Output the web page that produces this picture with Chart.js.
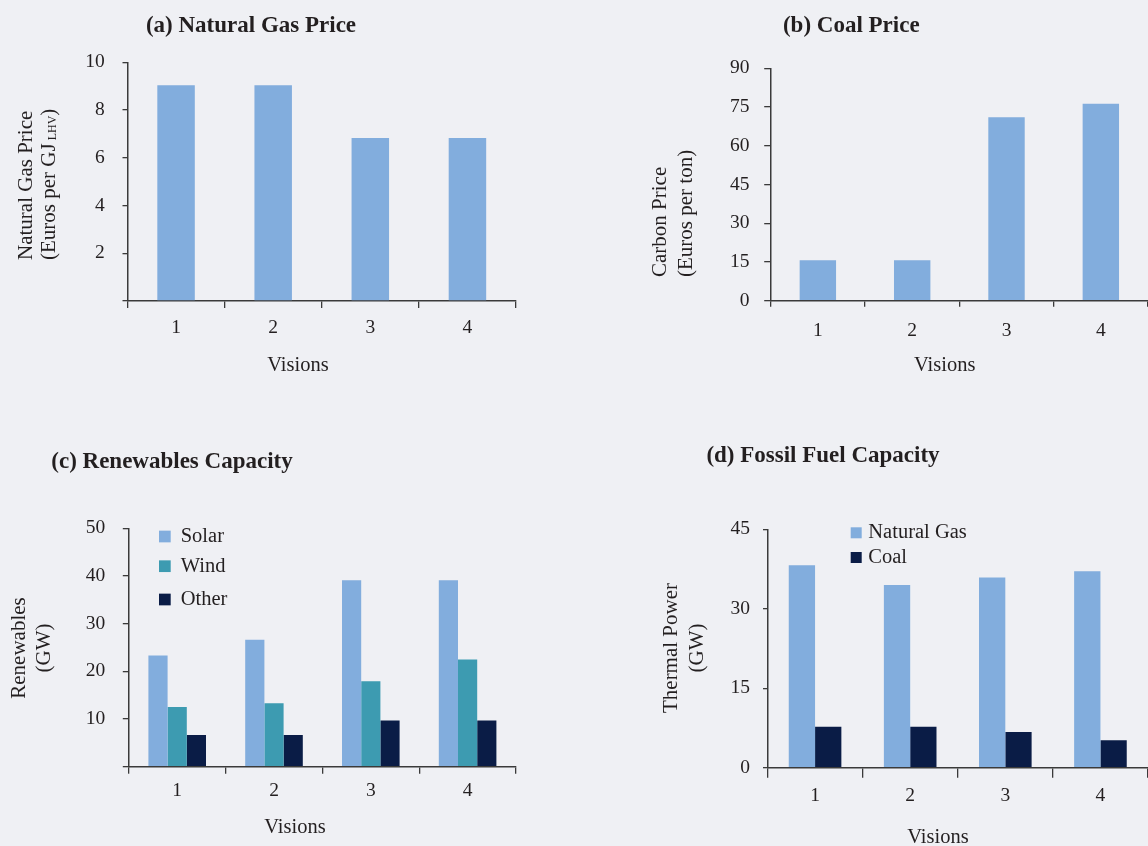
<!DOCTYPE html>
<html>
<head>
<meta charset="utf-8">
<script src="https://cdn.jsdelivr.net/npm/chart.js@4.4.1/dist/chart.umd.min.js"></script>
<style>
html,body{margin:0;padding:0;background:#eff0f4;overflow:hidden;width:1148px;height:846px;}
canvas{position:absolute;left:0;top:0;}
</style>
</head>
<body>
<canvas id="ca" width="1148" height="846"></canvas>
<canvas id="cb" width="1148" height="846"></canvas>
<canvas id="cc" width="1148" height="846"></canvas>
<canvas id="cd" width="1148" height="846"></canvas>
<script>
// ---- data ----
const visions = ['1', '2', '3', '4'];
const gasPrice = [9.04, 9.04, 6.83, 6.83];          // Euros per GJ LHV
const carbonPrice = [15.7, 15.7, 71.0, 76.3];       // Euros per ton
const solar = [23.3, 26.6, 39.1, 39.1];             // GW
const wind = [12.5, 13.3, 17.9, 22.5];              // GW
const otherRen = [6.65, 6.65, 9.7, 9.7];            // GW
const gasCapacity = [38.2, 34.5, 35.9, 37.1];       // GW
const coalCapacity = [7.74, 7.74, 6.74, 5.17];      // GW
const gasPriceTicks = [0, 2, 4, 6, 8, 10];
const carbonPriceTicks = [0, 15, 30, 45, 60, 75, 90];
const renewTicks = [0, 10, 20, 30, 40, 50];
const thermalTicks = [0, 15, 30, 45];

// ---- style ----
const TEXT = '#231f20', AXIS = '#3a3a3a';
const LIGHT = '#82addd', TEAL = '#3d9bb1', NAVY = '#0a1c46';
const SERIF = "'Liberation Serif', 'Times New Roman', serif";
const XH = 45;

const textPlugin = {
  id: 'pageText',
  afterDraw(chart, args, opts) {
    const ctx = chart.ctx;
    for (const it of (opts.items || [])) {
      ctx.save();
      ctx.translate(it.x, it.y);
      if (it.rotate) ctx.rotate(-Math.PI / 2);
      ctx.fillStyle = TEXT;
      ctx.textBaseline = 'middle';
      ctx.textAlign = 'left';
      const base = it.size || 20.5;
      const runs = it.runs || [{ text: it.text }];
      let total = 0;
      runs.forEach(r => { ctx.font = `${r.size || base}px ${SERIF}`; r._w = ctx.measureText(r.text).width; total += r._w; });
      let x = it.align === 'left' ? 0 : -total / 2;
      runs.forEach(r => { ctx.font = `${r.size || base}px ${SERIF}`; ctx.fillText(r.text, x, r.dy || 0); x += r._w; });
      ctx.restore();
    }
  }
};

const boxLegend = {
  id: 'boxLegend',
  afterDraw(chart, args, opts) {
    if (!opts || !opts.ys) return;
    const ctx = chart.ctx;
    ctx.save();
    chart.data.datasets.forEach((ds, i) => {
      const y = opts.ys[i];
      ctx.fillStyle = ds.backgroundColor;
      ctx.fillRect(opts.x, y - opts.size / 2, opts.size, opts.size);
      ctx.fillStyle = TEXT;
      ctx.font = `20.5px ${SERIF}`;
      ctx.textAlign = 'left';
      ctx.textBaseline = 'middle';
      ctx.fillText(ds.label, opts.textX, y);
    });
    ctx.restore();
  }
};

function makeBar(id, c) {
  const tickFont = { family: SERIF, size: 19.5 };
  return new Chart(document.getElementById(id), {
    type: 'bar',
    data: { labels: visions, datasets: c.datasets },
    options: {
      responsive: false,
      animation: false,
      events: [],
      layout: { padding: c.pad },
      plugins: {
        legend: { display: false },
        tooltip: { enabled: false },
        title: {
          display: true, text: c.title, color: TEXT,
          font: { family: SERIF, size: 23, weight: 'bold', lineHeight: 1.2 },
          padding: { top: c.titleTop, bottom: c.titleBottom }
        },
        pageText: { items: c.texts },
        boxLegend: c.legend || {}
      },
      scales: {
        x: {
          type: 'category', offset: true,
          grid: { offset: true, drawOnChartArea: false, drawTicks: true, tickLength: c.xTickLen, color: AXIS, lineWidth: 1.3 },
          border: { display: true, color: AXIS, width: 1.5 },
          ticks: { color: TEXT, font: tickFont, padding: c.xTickPad, maxRotation: 0, autoSkip: false },
          afterFit: s => { s.height = XH; }
        },
        y: {
          min: c.yTicks[0], max: c.yTicks[c.yTicks.length - 1],
          afterBuildTicks: s => { s.ticks = c.yTicks.map(v => ({ value: v })); },
          grid: { drawOnChartArea: false, drawTicks: true, tickLength: c.yTickLen, color: AXIS, lineWidth: 1.3 },
          border: { display: true, color: AXIS, width: 1.5 },
          ticks: { color: TEXT, font: tickFont, padding: c.yTickPad, callback: v => (v === 0 && c.hideZero) ? '' : String(v) },
          afterFit: s => { s.width = c.yw; }
        }
      }
    },
    plugins: [textPlugin, boxLegend]
  });
}

// title line height at 23px * 1.2 = 27.6
// (a) Natural Gas Price
makeBar('ca', {
  datasets: [{ label: 'Natural Gas Price', data: gasPrice, backgroundColor: LIGHT, barPercentage: 0.386, categoryPercentage: 1 }],
  pad: { left: -14, right: 632, top: 0, bottom: 846 - 301 - XH },
  title: '(a) Natural Gas Price', titleTop: 12.7, titleBottom: 22.0,
  yw: 141.5, yTicks: gasPriceTicks, hideZero: true, yTickLen: 5, yTickPad: 17.8,
  xTickLen: 7, xTickPad: 8,
  texts: [
    { x: 298, y: 366, text: 'Visions' },
    { x: 26, y: 260, rotate: true, align: 'left', size: 21, text: 'Natural Gas Price' },
    { x: 49, y: 260, rotate: true, align: 'left', size: 21, runs: [{ text: '(Euros per GJ' }, { text: ' LHV', size: 12, dy: 4 }, { text: ')' }] }
  ]
});

// (b) Coal Price
makeBar('cb', {
  datasets: [{ label: 'Carbon Price', data: carbonPrice, backgroundColor: LIGHT, barPercentage: 0.386, categoryPercentage: 1 }],
  pad: { left: 544.9, right: -9.7, top: 0, bottom: 846 - 300.7 - XH },
  title: '(b) Coal Price', titleTop: 12.7, titleBottom: 28.0,
  yw: 225.8, yTicks: carbonPriceTicks, hideZero: false, yTickLen: 6.5, yTickPad: 14.8,
  xTickLen: 6, xTickPad: 12.5,
  texts: [
    { x: 944.7, y: 365.5, text: 'Visions' },
    { x: 660, y: 277, rotate: true, align: 'left', size: 21, text: 'Carbon Price' },
    { x: 686, y: 277, rotate: true, align: 'left', size: 21, text: '(Euros per ton)' }
  ]
});

// (c) Renewables Capacity
makeBar('cc', {
  datasets: [
    { label: 'Solar', data: solar, backgroundColor: LIGHT, barPercentage: 1, categoryPercentage: 0.595 },
    { label: 'Wind', data: wind, backgroundColor: TEAL, barPercentage: 1, categoryPercentage: 0.595 },
    { label: 'Other', data: otherRen, backgroundColor: NAVY, barPercentage: 1, categoryPercentage: 0.595 }
  ],
  pad: { left: -172, right: 632, top: 0, bottom: 846 - 766.7 - XH },
  title: '(c) Renewables Capacity', titleTop: 448.2, titleBottom: 52.5,
  yw: 300.8, yTicks: renewTicks, hideZero: true, yTickLen: 6, yTickPad: 17.6,
  xTickLen: 7, xTickPad: 5.5,
  legend: { x: 159, size: 11.7, textX: 180.7, ys: [536.5, 566.2, 599.5] },
  texts: [
    { x: 295, y: 827.5, text: 'Visions' },
    { x: 19, y: 648, rotate: true, size: 21, text: 'Renewables' },
    { x: 44.5, y: 648, rotate: true, size: 21, text: '(GW)' }
  ]
});

// (d) Fossil Fuel Capacity
makeBar('cd', {
  datasets: [
    { label: 'Natural Gas', data: gasCapacity, backgroundColor: LIGHT, barPercentage: 1, categoryPercentage: 0.553 },
    { label: 'Coal', data: coalCapacity, backgroundColor: NAVY, barPercentage: 1, categoryPercentage: 0.553 }
  ],
  pad: { left: 490.5, right: -7.5, top: 0, bottom: 846 - 767.7 - XH },
  title: '(d) Fossil Fuel Capacity', titleTop: 442.7, titleBottom: 59.0,
  yw: 277, yTicks: thermalTicks, hideZero: false, yTickLen: 4.5, yTickPad: 13,
  xTickLen: 10, xTickPad: 6.5,
  legend: { x: 850.7, size: 11, textX: 868.3, ys: [532.8, 557.5] },
  texts: [
    { x: 938, y: 837.5, text: 'Visions' },
    { x: 671, y: 648, rotate: true, size: 21, text: 'Thermal Power' },
    { x: 697, y: 648, rotate: true, size: 21, text: '(GW)' }
  ]
});
</script>
</body>
</html>
